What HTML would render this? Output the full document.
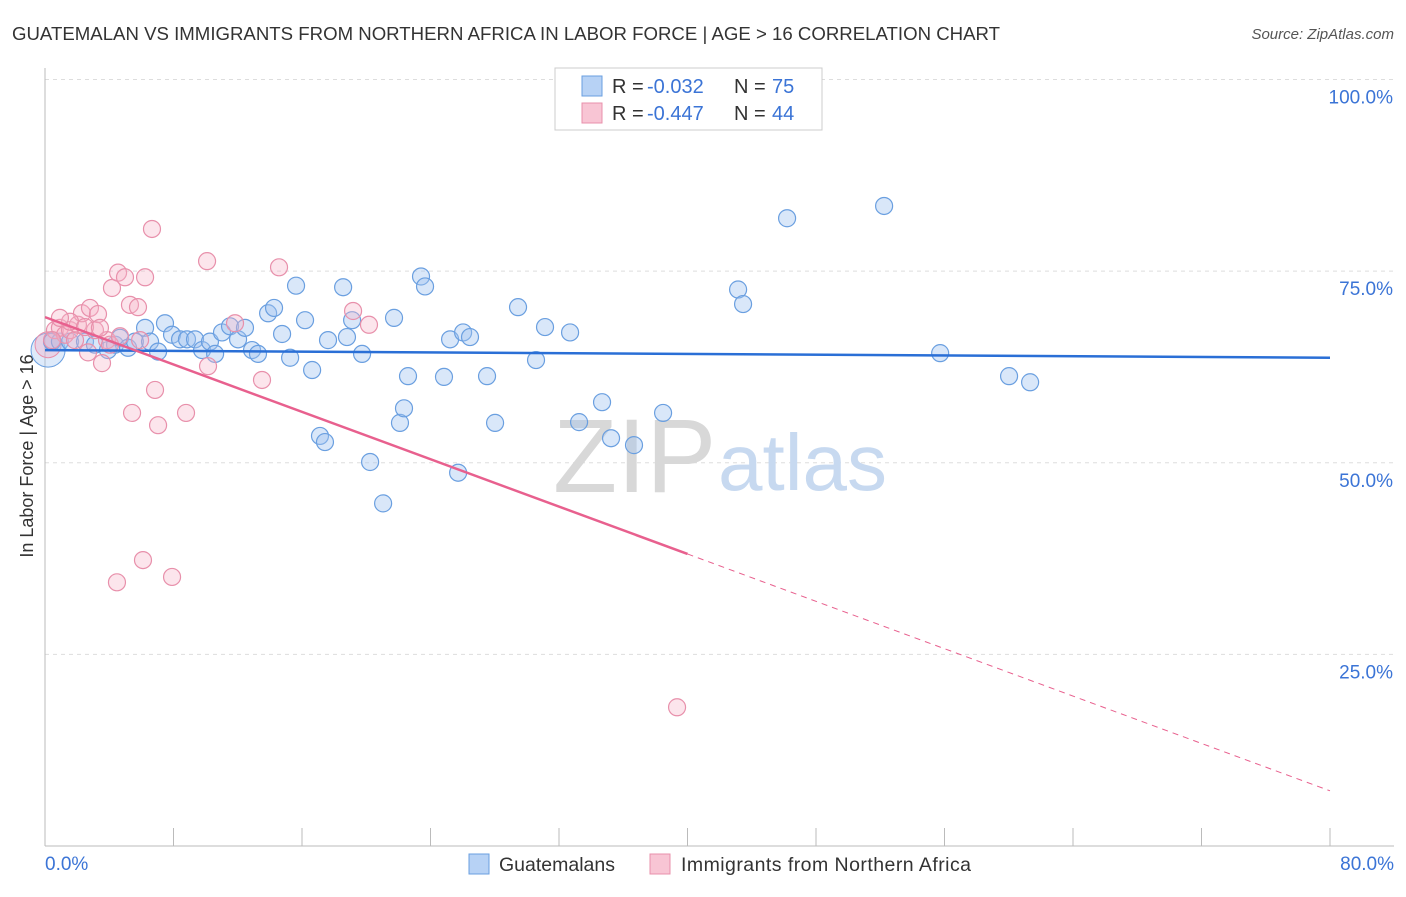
<!DOCTYPE html>
<html><head><meta charset="utf-8"><style>
body{margin:0;background:#fff;font-family:"Liberation Sans",sans-serif;}
svg text{font-family:"Liberation Sans",sans-serif;}
</style></head><body>
<svg width="1406" height="892" viewBox="0 0 1406 892">
<text x="12" y="40" font-size="18" fill="#333" textLength="988" lengthAdjust="spacingAndGlyphs">GUATEMALAN VS IMMIGRANTS FROM NORTHERN AFRICA IN LABOR FORCE | AGE &gt; 16 CORRELATION CHART</text>
<text x="1394" y="39" font-size="15" fill="#555" text-anchor="end" font-style="italic">Source: ZipAtlas.com</text>
<g id="grid"></g>
<line x1="45" y1="68" x2="45" y2="846" stroke="#bbb"/>
<line x1="45" y1="846" x2="1394" y2="846" stroke="#bbb"/>
<g id="xticks"></g>
<text x="33" y="456" font-size="18" fill="#333" text-anchor="middle" transform="rotate(-90 33 456)">In Labor Force | Age &gt; 16</text>
<text x="45" y="870" font-size="19" fill="#3b74d6">0.0%</text>
<text x="1394" y="870" font-size="19" fill="#3b74d6" text-anchor="end">80.0%</text>
<text x="553" y="492" font-size="105" fill="#d8d8d8" font-family="Liberation Serif">ZIP</text>
<text x="718" y="490" font-size="80" fill="#c7d9f0">atlas</text>
<g id="pts"></g>
<g id="trends"></g>
<rect x="555" y="68" width="267" height="62" fill="#fff" stroke="#ccc"/>
<rect x="582" y="76" width="20" height="20" fill="#b7d2f5" stroke="#6a9fe0"/>
<g font-size="20" fill="#333">
<text x="612" y="93">R =</text><text x="647" y="93" fill="#3b74d6">-0.032</text><text x="734" y="93">N =</text><text x="772" y="93" fill="#3b74d6">75</text></g>
<rect x="582" y="103" width="20" height="20" fill="#f8c5d4" stroke="#e890ab"/>
<g font-size="20" fill="#333">
<text x="612" y="120">R =</text><text x="647" y="120" fill="#3b74d6">-0.447</text><text x="734" y="120">N =</text><text x="772" y="120" fill="#3b74d6">44</text></g>
<rect x="469" y="854" width="20" height="20" fill="#b7d2f5" stroke="#6a9fe0"/>
<text x="499" y="871" font-size="19.5" fill="#333">Guatemalans</text>
<rect x="650" y="854" width="20" height="20" fill="#f8c5d4" stroke="#e890ab"/>
<text x="681" y="871" font-size="19.5" fill="#333" textLength="290">Immigrants from Northern Africa</text>
</svg>
<script>
const yTicks=[25,50,75,100];
const yTickLabels=["25.0%","50.0%","75.0%","100.0%"];
const xTicks=[0,8,16,24,32,40,48,56,64,72,80];
const blueX=[0.44,0.93,1.56,2.49,3.11,3.92,4.36,4.67,5.17,5.60,6.23,6.54,7.04,7.47,7.91,8.41,8.84,9.34,9.78,10.27,10.59,11.02,11.52,12.02,12.45,12.89,13.26,13.89,14.26,14.76,15.26,15.63,16.19,16.63,17.12,17.43,17.62,18.56,18.80,19.12,19.74,20.24,21.05,21.73,22.10,22.35,22.60,23.41,23.66,24.84,25.22,25.72,26.03,26.46,27.52,28.02,29.45,30.57,31.13,32.69,33.25,34.68,35.24,36.67,38.48,43.15,43.46,46.20,52.24,55.73,60.02,61.33];
const blueY=[65.8,65.8,65.8,65.8,65.4,64.7,65.4,66.3,65.0,65.8,67.6,65.8,64.5,68.2,66.7,66.1,66.1,66.1,64.7,65.8,64.2,67.0,67.8,66.1,67.6,64.7,64.2,69.5,70.2,66.8,63.7,73.1,68.6,62.1,53.5,52.7,66.0,72.9,66.4,68.6,64.2,50.1,44.7,68.9,55.2,57.1,61.3,74.3,73.0,61.2,66.1,48.7,67.0,66.4,61.3,55.2,70.3,63.4,67.7,67.0,55.3,57.9,53.2,52.3,56.5,72.6,70.7,81.9,83.5,64.3,61.3,60.5];
const pinkX=[0.62,0.93,1.25,1.56,1.87,2.05,2.30,2.68,2.80,3.11,3.30,3.55,3.86,4.17,4.55,4.98,5.29,5.42,5.79,6.23,5.92,6.10,4.48,6.66,6.85,7.04,7.91,8.78,10.09,10.15,11.83,13.51,14.57,19.18,20.17,39.35,1.56,2.49,3.42,0.93,0.44,4.05,4.67];
const pinkY=[67.3,67.6,66.7,67.3,66.0,68.0,69.5,64.4,70.2,67.3,69.4,63.0,66.0,72.8,74.8,74.2,70.6,56.5,70.3,74.2,66.0,37.3,34.4,80.5,59.5,54.9,35.1,56.5,76.3,62.6,68.2,60.8,75.5,69.8,68.0,18.1,68.4,67.7,67.6,68.9,66.0,65.4,66.5];
const blueTrend=[64.7,63.7];
const pinkTrend=[69.0,7.2];
const pinkSolidEnd=40;
const X=v=>45+v/80*1285;
const Y=v=>846-v/100*766.5;
const NS="http://www.w3.org/2000/svg";
function mk(t,a,p){const e=document.createElementNS(NS,t);for(const k in a)e.setAttribute(k,a[k]);p.appendChild(e);return e;}
const grid=document.getElementById('grid');
yTicks.forEach((t,i)=>{
 const l=mk('line',{x1:45,x2:1394,y1:Y(t),y2:Y(t),stroke:'#ddd','stroke-dasharray':'4,4'},grid);
 
 
 const tx=mk('text',{x:1393,y:Y(t)+24,'font-size':19,fill:'#3b74d6','text-anchor':'end'},grid);
 tx.textContent=yTickLabels[i];
 
 
});
const xt=document.getElementById('xticks');
xTicks.forEach(t=>{
 const l=mk('line',{x1:X(t),x2:X(t),y1:828,y2:846,stroke:'#bbb'},xt);
 
 
});
const pts=document.getElementById('pts');
const big1=mk('circle',{cx:X(0.19),cy:Y(64.7),r:17,fill:'rgba(160,196,240,0.35)',stroke:'#6a9fe0'},pts);


const big2=mk('circle',{cx:X(0.19),cy:Y(65.4),r:13,fill:'rgba(245,170,195,0.35)',stroke:'#e890ab'},pts);


blueX.forEach((x,i)=>{
 const c=mk('circle',{cx:X(x),cy:Y(blueY[i]),r:8.5,fill:'rgba(160,196,240,0.4)',stroke:'#6a9fe0','stroke-width':1.2},pts);
 
 
});
pinkX.forEach((x,i)=>{
 const c=mk('circle',{cx:X(x),cy:Y(pinkY[i]),r:8.5,fill:'rgba(245,180,200,0.35)',stroke:'#e890ab','stroke-width':1.2},pts);
 
 
});
const tr=document.getElementById('trends');
const b=mk('line',{x1:X(0),y1:Y(blueTrend[0]),x2:X(80),y2:Y(blueTrend[1]),stroke:'#2a6fd6','stroke-width':2.5},tr);


const pm=v=>pinkTrend[0]+(pinkTrend[1]-pinkTrend[0])*v/80;
const p1=mk('line',{x1:X(0),y1:Y(pinkTrend[0]),x2:X(pinkSolidEnd),y2:Y(pm(pinkSolidEnd)),stroke:'#e8608e','stroke-width':2.5},tr);


const p2=mk('line',{x1:X(pinkSolidEnd),y1:Y(pm(pinkSolidEnd)),x2:X(80),y2:Y(pinkTrend[1]),stroke:'#e8608e','stroke-width':1,'stroke-dasharray':'6,5'},tr);


</script>
</body></html>
